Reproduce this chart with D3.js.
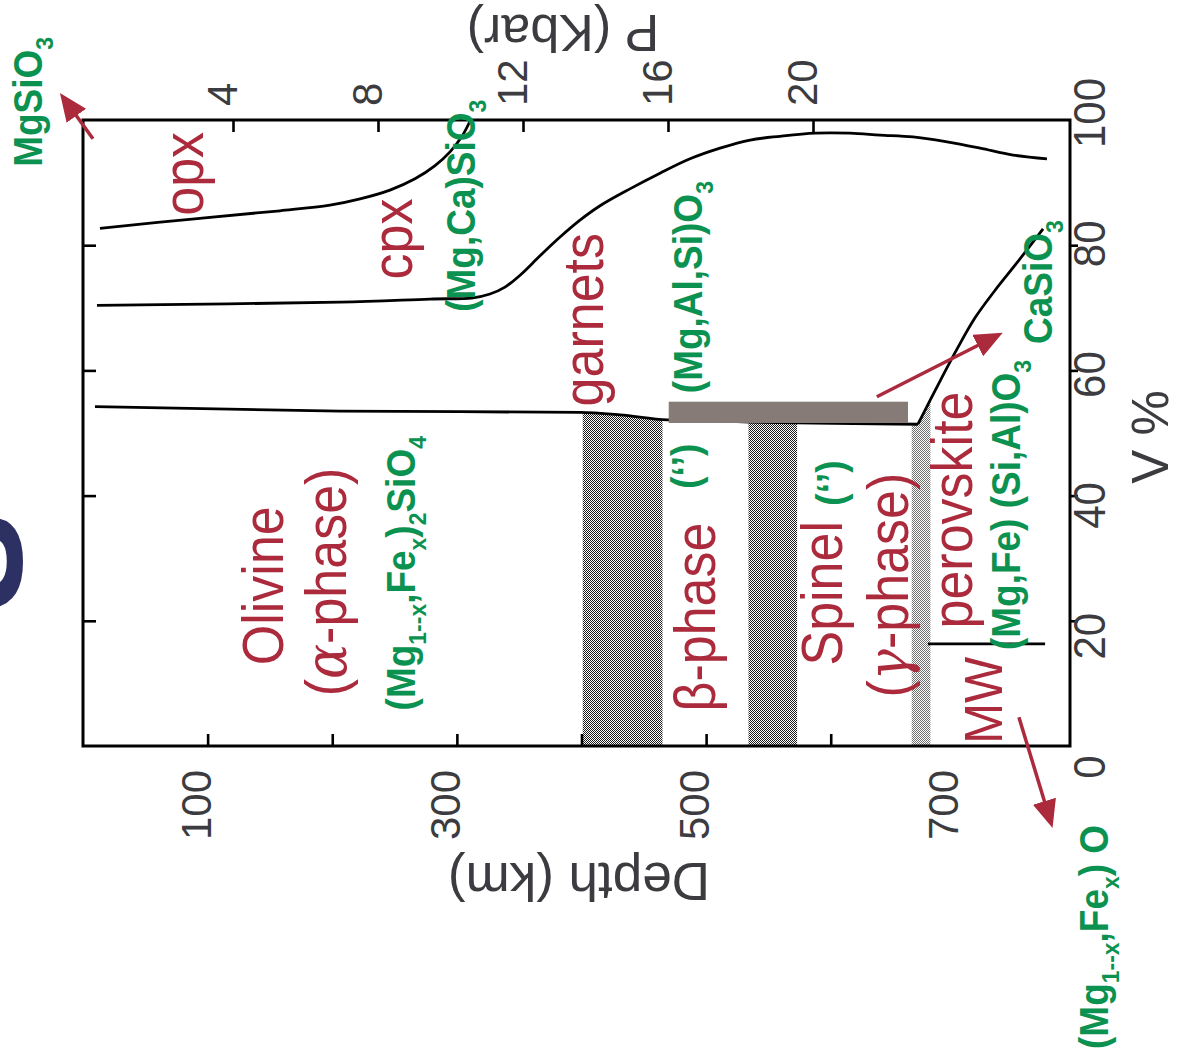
<!DOCTYPE html>
<html>
<head>
<meta charset="utf-8">
<script src="https://cdn.jsdelivr.net/npm/d3@7"></script>
<style>
  html, body { margin: 0; padding: 0; background: #fff; }
  svg { display: block; }
  text { font-family: "Liberation Sans", Arial, Helvetica, sans-serif; }
</style>
</head>
<body>
<svg id="chart" width="1180" height="1063"></svg>
<script>
// ---------------- data ----------------
// axis ticks
const depthTicks = [100, 200, 300, 400, 500, 600];
const depthTickLabels = [100, 300, 500, 700];
const pressureTicks = [4, 8, 12, 16, 20];
const volumeTicks = [20, 40, 60, 80];
const volumeTickLabels = [0, 20, 40, 60, 80, 100];

// opx / cpx boundary (depth km, volume %)
const opxCpxDepth = [13.6, 93.9, 158.1, 198.2, 222.3, 246.3, 266.4, 282.5, 294.5, 304.1, 310.5];
const opxCpxV     = [82.7, 84.3, 85.5, 86.4, 87.4, 88.8, 90.6, 92.7, 94.9, 97.4, 99.8];

// pyroxene / garnet boundary
const pxGtDepth = [11.2, 206.2, 278.4, 313.0, 326.6, 338.6, 350.7, 366.7, 382.8, 398.8, 414.9, 438.9, 463.0,
                   487.1, 511.2, 535.3, 559.3, 587.4, 615.5, 639.6, 666.0, 693.3, 719.8, 746.3, 773.5];
const pxGtV     = [70.4, 70.9, 71.4, 71.6, 72.2, 73.3, 75.2, 78.3, 81.3, 84.0, 86.3, 89.0, 91.5,
                   93.8, 95.5, 96.8, 97.4, 97.9, 97.9, 97.6, 97.3, 96.5, 95.5, 94.4, 93.8];

// olivine-group / garnet boundary (to the 670 km kink), then Ca-perovskite
const olGtDepth = [9.6, 206, 399, 431, 469, 670.0, 687.7, 701.3, 715.8, 731.9, 747.9, 770.4];
const olGtV     = [54.2, 53.5, 53.3, 52.9, 52.1, 51.4, 58.3, 63.4, 68.4, 72.8, 76.8, 82.6];
const olGtKink  = 5;

// magnesiowüstite / perovskite boundary
const mwPvDepth = [678, 772];
const mwPvV     = [16.3, 16.3];

// olivine transition zones
const zoneStart = [401, 534, 665];
const zoneEnd   = [465, 573, 680];
const zoneTone  = ["dark", "dark", "light"];

// majorite garnet bar
const barDepth = [470, 662];
const barV     = [51.6, 55.0];

// arrows (depth km, volume %)
const arrowFromDepth = [8, 637, 751];
const arrowFromV     = [97.0, 55.8, 4.6];
const arrowToDepth   = [-18.5, 738, 778];
const arrowToV       = [104.3, 66.0, -13.1];

// phase names and formulas; d = depth at text baseline, v = volume at text centre
const phaseNames = [
  { text: "opx",          d: 96.3,  v: 91.4 },
  { text: "cpx",          d: 264,   v: 81.0 },
  { text: "garnets",      d: 417.3, v: 68.1 },
  { text: "Olivine",      d: 160.5, v: 25.6 },
  { text: "(*{α}-phase)", d: 211,   v: 26.2 },
  { text: "β-phase",      d: 507.1, v: 20.6 },
  { text: "Spinel",       d: 609,   v: 24.4 },
  { text: "(*{γ}-phase)", d: 662,   v: 25.7 },
  { text: "perovskite",   d: 713.4, v: 37.7 },
  { text: "MW",           d: 737.4, v: 7.3, size: 49 }
];
const formulas = [
  { text: "MgSiO_{3}",                     d: -32.9, v: 102.9 },
  { text: "(Mg,Ca)SiO_{3}",                d: 314.6, v: 86.3 },
  { text: "(Mg,Al,Si)O_{3}",               d: 496.7, v: 73.3 },
  { text: "CaSiO_{3}",                     d: 777.6, v: 74.1 },
  { text: "(Mg_{1--x},Fe_{x})_{2}SiO_{4}", d: 266.4, v: 27.6 },
  { text: "(‘’)",                          d: 495,   v: 44.7 },
  { text: "(‘’)",                          d: 611.5, v: 42.0 },
  { text: "(Mg,Fe) (Si,Al)O_{3}",          d: 751.9, v: 38.5 },
  { text: "(Mg_{1--x},Fe_{x}) O",          d: 822.5, v: -30.5 }
];

// ---------------- drawing ----------------
const red = "#ab2a3c", green = "#0c9250", grey = "#3b3b40", navy = "#2c3063", barFill = "#867b77";

const svg = d3.select("#chart");
const defs = svg.append("defs");

const x = d3.scaleLinear().domain([0, 792]).range([83, 1070]);   // depth (km)
const y = d3.scaleLinear().domain([0, 100]).range([746, 120]);   // volume (%)
const p = d3.scaleLinear().domain([0, 20]).range([88, 813]);     // pressure (kbar)
// the V % numbers sit on their own, slightly wider spacing
const yLabel = d3.scaleLinear().domain([0, 100]).range([767, 113]);

// halftone fills for the transition zones
function checker(id, color) {
  const pt = defs.append("pattern").attr("id", id)
    .attr("patternUnits", "userSpaceOnUse").attr("width", 2).attr("height", 2);
  pt.append("rect").attr("width", 2).attr("height", 2).attr("fill", "#fff");
  pt.append("rect").attr("width", 1).attr("height", 1).attr("fill", color);
  pt.append("rect").attr("x", 1).attr("y", 1).attr("width", 1).attr("height", 1).attr("fill", color);
}
checker("stipple-dark", "#1c1c1c");
checker("stipple-light", "#6e6e6e");

const olGtPts = olGtDepth.map((d, i) => [d, olGtV[i]]);
defs.append("clipPath").attr("id", "below-olgt").append("path")
  .attr("d", d3.area().x(d => x(d[0])).y0(y(0)).y1(d => y(d[1]))(olGtPts));

svg.append("g").attr("clip-path", "url(#below-olgt)")
  .selectAll("rect").data(zoneStart).join("rect")
  .attr("x", d => x(d))
  .attr("width", (d, i) => x(zoneEnd[i]) - x(d))
  .attr("y", y(100))
  .attr("height", y(0) - y(100))
  .attr("fill", (d, i) => `url(#stipple-${zoneTone[i]})`);

// boundary curves
const smooth = d3.line().x(d => x(d[0])).y(d => y(d[1])).curve(d3.curveCatmullRom.alpha(0.5));
const monotone = d3.line().x(d => x(d[0])).y(d => y(d[1])).curve(d3.curveMonotoneX);
const straight = d3.line().x(d => x(d[0])).y(d => y(d[1]));
const curves = svg.append("g").attr("fill", "none").attr("stroke", "#000")
  .attr("stroke-width", 2.8).attr("stroke-linejoin", "round");
curves.append("path").attr("d", smooth(opxCpxDepth.map((d, i) => [d, opxCpxV[i]])));
curves.append("path").attr("d", smooth(pxGtDepth.map((d, i) => [d, pxGtV[i]])));
curves.append("path").attr("d", monotone(olGtPts.slice(0, olGtKink + 1)));
curves.append("path").attr("d", smooth(olGtPts.slice(olGtKink)));
curves.append("path").attr("d", straight(mwPvDepth.map((d, i) => [d, mwPvV[i]])));

// majorite bar
svg.append("rect")
  .attr("x", x(barDepth[0])).attr("width", x(barDepth[1]) - x(barDepth[0]))
  .attr("y", y(barV[1])).attr("height", y(barV[0]) - y(barV[1]))
  .attr("fill", barFill);

// frame
svg.append("rect")
  .attr("x", x(0)).attr("y", y(100))
  .attr("width", x(792) - x(0)).attr("height", y(0) - y(100))
  .attr("fill", "none").attr("stroke", "#000").attr("stroke-width", 3);

// axes (ticks only; labels are set separately)
function styleAxis(g) {
  g.select(".domain").remove();
  g.selectAll(".tick line").attr("stroke", "#000").attr("stroke-width", 2.6);
  g.selectAll(".tick text").remove();
}
svg.append("g").attr("transform", `translate(0,${y(0)})`)
  .call(d3.axisBottom(x).tickValues(depthTicks).tickSize(-12)).call(styleAxis);
svg.append("g").attr("transform", `translate(0,${y(100)})`)
  .call(d3.axisTop(p).tickValues(pressureTicks).tickSize(-12)).call(styleAxis);
svg.append("g").attr("transform", `translate(${x(0)},0)`)
  .call(d3.axisLeft(y).tickValues(volumeTicks).tickSize(-13)).call(styleAxis);
svg.append("g").attr("transform", `translate(${x(792)},0)`)
  .call(d3.axisRight(y).tickValues(volumeTicks).tickSize(8)).call(styleAxis);

// rich text: _{..} subscript, *{..} italic serif
function parseRich(s) {
  const out = []; const re = /(_|\*)\{([^}]*)\}/g; let last = 0, m;
  while ((m = re.exec(s))) {
    if (m.index > last) out.push({ t: s.slice(last, m.index), k: "n" });
    out.push({ t: m[2], k: m[1] === "_" ? "sub" : "it" });
    last = re.lastIndex;
  }
  if (last < s.length) out.push({ t: s.slice(last), k: "n" });
  return out;
}
function fillRich(textSel, str, size) {
  let shifted = false;
  parseRich(str).forEach(seg => {
    const ts = textSel.append("tspan").text(seg.t);
    if (seg.k === "sub") {
      ts.attr("font-size", size * 0.62);
      if (!shifted) ts.attr("dy", size * 0.27);
      shifted = true;
    } else {
      if (shifted) ts.attr("dy", -size * 0.27);
      shifted = false;
      if (seg.k === "it") ts.attr("font-family", "'DejaVu Serif', 'Liberation Serif', serif").attr("font-style", "italic");
    }
  });
}
// text reading bottom-to-top, baseline at bx, centred on cy
function upText(g, str, bx, cy, size, color, opt = {}) {
  const t = g.append("text")
    .attr("transform", `translate(${bx},${cy}) rotate(-90) scale(1,${opt.stretch || 1})`)
    .attr("text-anchor", opt.anchor || "middle")
    .attr("font-size", size).attr("fill", color)
    .attr("font-weight", opt.bold ? "bold" : null);
  fillRich(t, str, size);
  return t;
}

const labels = svg.append("g");
phaseNames.forEach(l => upText(labels, l.text, x(l.d), y(l.v), l.size || 52, red, { stretch: 1.1 }));
formulas.forEach(l => upText(labels, l.text, x(l.d), y(l.v), 37, green, { stretch: 1.08, bold: true }));

// tick labels
const tickText = svg.append("g");
depthTickLabels.forEach(t => upText(tickText, String(t), x(t) + 3, 840, 42, grey, { anchor: "start" }));
pressureTicks.forEach(t => upText(tickText, String(t), p(t) + 4, 106, 42, grey, { anchor: "start" }));
volumeTickLabels.forEach(t => upText(tickText, String(t), 1105, yLabel(t), 42, grey, { stretch: 1.05 }));

// axis titles
svg.append("text").attr("transform", "translate(563,15) rotate(180)")
  .attr("text-anchor", "middle").attr("font-size", 52).attr("fill", grey).text("P (Kbar)");
svg.append("text").attr("transform", "translate(579,863) rotate(180)")
  .attr("text-anchor", "middle").attr("font-size", 53).attr("fill", grey).text("Depth (km)");
upText(svg, "V %", 1168, 437, 51, grey);

// large title letter running off the left edge
upText(svg, "S", 22, 562, 150, navy, { bold: true });

// arrows
defs.append("marker").attr("id", "arrowhead")
  .attr("markerUnits", "userSpaceOnUse").attr("markerWidth", 30).attr("markerHeight", 26)
  .attr("refX", 28).attr("refY", 12).attr("orient", "auto")
  .append("path").attr("d", "M0,0 L28,12 L0,24 Z").attr("fill", red);
const arrows = svg.append("g");
arrowFromDepth.forEach((d, i) => {
  const x0 = x(d), y0 = y(arrowFromV[i]), x1 = x(arrowToDepth[i]), y1 = y(arrowToV[i]);
  const len = Math.hypot(x1 - x0, y1 - y0), ux = (x1 - x0) / len, uy = (y1 - y0) / len;
  arrows.append("line")
    .attr("x1", x0).attr("y1", y0).attr("x2", x1 - ux * 12).attr("y2", y1 - uy * 12)
    .attr("stroke", red).attr("stroke-width", 3.5);
  arrows.append("line")
    .attr("x1", x1 - ux * 14).attr("y1", y1 - uy * 14).attr("x2", x1).attr("y2", y1)
    .attr("stroke", "none").attr("marker-end", "url(#arrowhead)");
});
</script>
</body>
</html>
